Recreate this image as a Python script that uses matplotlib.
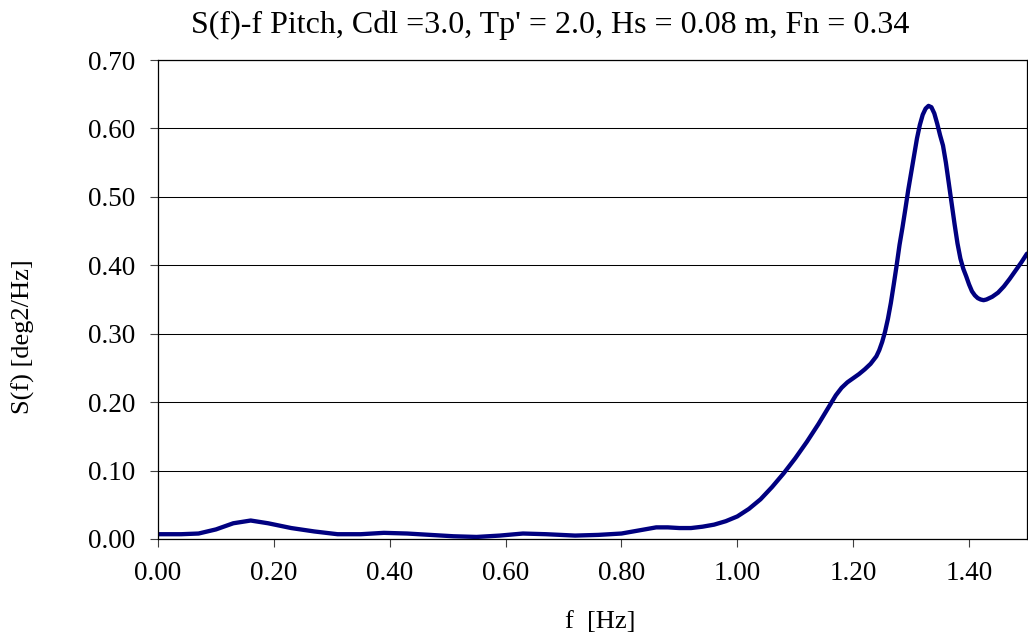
import matplotlib
matplotlib.use("Agg")
import matplotlib.pyplot as plt
from matplotlib.ticker import MultipleLocator, FormatStrFormatter

plt.rcParams["font.family"] = ["Liberation Serif", "DejaVu Serif"]

# pitch response spectrum, frequency [Hz] vs S(f) [deg2/Hz]
freq = [0.00, 0.04, 0.07, 0.10, 0.13, 0.16, 0.19, 0.23, 0.27, 0.31,
        0.35, 0.39, 0.43, 0.47, 0.51, 0.55, 0.59, 0.63, 0.67, 0.72,
        0.76, 0.80, 0.82, 0.84, 0.86, 0.88, 0.90, 0.92, 0.94, 0.96,
        0.98, 1.00, 1.02, 1.04, 1.06, 1.08, 1.10, 1.12, 1.14, 1.16,
        1.17, 1.18, 1.19, 1.20, 1.21, 1.22, 1.23, 1.24, 1.245, 1.25,
        1.255, 1.26, 1.265, 1.27, 1.275, 1.28, 1.285, 1.29, 1.295, 1.30,
        1.305, 1.31, 1.315, 1.32, 1.325, 1.33, 1.335, 1.34, 1.345, 1.35,
        1.355, 1.36, 1.365, 1.37, 1.375, 1.38, 1.385, 1.39, 1.395, 1.40,
        1.405, 1.41, 1.415, 1.42, 1.425, 1.43, 1.44, 1.45, 1.46, 1.47,
        1.48, 1.49, 1.50]
spec = [0.007, 0.007, 0.008, 0.014, 0.023, 0.027, 0.023, 0.016, 0.011, 0.007,
        0.007, 0.009, 0.008, 0.006, 0.004, 0.003, 0.005, 0.008, 0.007, 0.005,
        0.006, 0.008, 0.011, 0.014, 0.017, 0.017, 0.016, 0.016, 0.018, 0.021,
        0.026, 0.033, 0.044, 0.058, 0.076, 0.096, 0.118, 0.142, 0.168, 0.196,
        0.210, 0.221, 0.229, 0.235, 0.241, 0.248, 0.256, 0.267, 0.276, 0.288,
        0.303, 0.322, 0.345, 0.372, 0.400, 0.430, 0.455, 0.482, 0.510, 0.535,
        0.560, 0.585, 0.605, 0.620, 0.629, 0.633, 0.631, 0.622, 0.607, 0.590,
        0.575, 0.550, 0.520, 0.490, 0.460, 0.432, 0.410, 0.395, 0.384, 0.372,
        0.362, 0.356, 0.352, 0.350, 0.349, 0.350, 0.354, 0.360, 0.369, 0.380,
        0.392, 0.404, 0.417]

title = "S(f)-f Pitch, Cdl =3.0, Tp' = 2.0, Hs = 0.08 m, Fn = 0.34"

fig = plt.figure(figsize=(10.28, 6.42), dpi=100)
ax = fig.add_axes([158 / 1028, 103 / 642, 869 / 1028, 479 / 642])

ax.plot(freq, spec, color="#000080", lw=3.1, solid_capstyle="round",
        solid_joinstyle="round")

ax.set_xlim(0, 1.5)
ax.set_ylim(0, 0.7)
ax.xaxis.set_major_locator(MultipleLocator(0.2))
ax.yaxis.set_major_locator(MultipleLocator(0.1))
ax.xaxis.set_major_formatter(FormatStrFormatter("%.2f"))
ax.yaxis.set_major_formatter(FormatStrFormatter("%.2f"))
ax.tick_params(direction="out", length=5.5, width=0.8, labelsize=19.5,
               color="#404040")
ax.tick_params(axis="y", pad=11)
ax.tick_params(axis="x", pad=10)
ax.grid(axis="y", color="black", lw=0.75)
ax.set_axisbelow(True)
for s in ax.spines.values():
    s.set_linewidth(0.9)

fig.text(550 / 1028, 1 - 25 / 642, title, ha="center", va="center", fontsize=23)
fig.text(600 / 1028, 1 - 622 / 642, "f  [Hz]", ha="center", va="center", fontsize=19)
fig.text(23 / 1028, 1 - 337 / 642, "S(f) [deg2/Hz]", ha="center", va="center",
         rotation=90, fontsize=19)

fig.savefig("out.png", dpi=100)
